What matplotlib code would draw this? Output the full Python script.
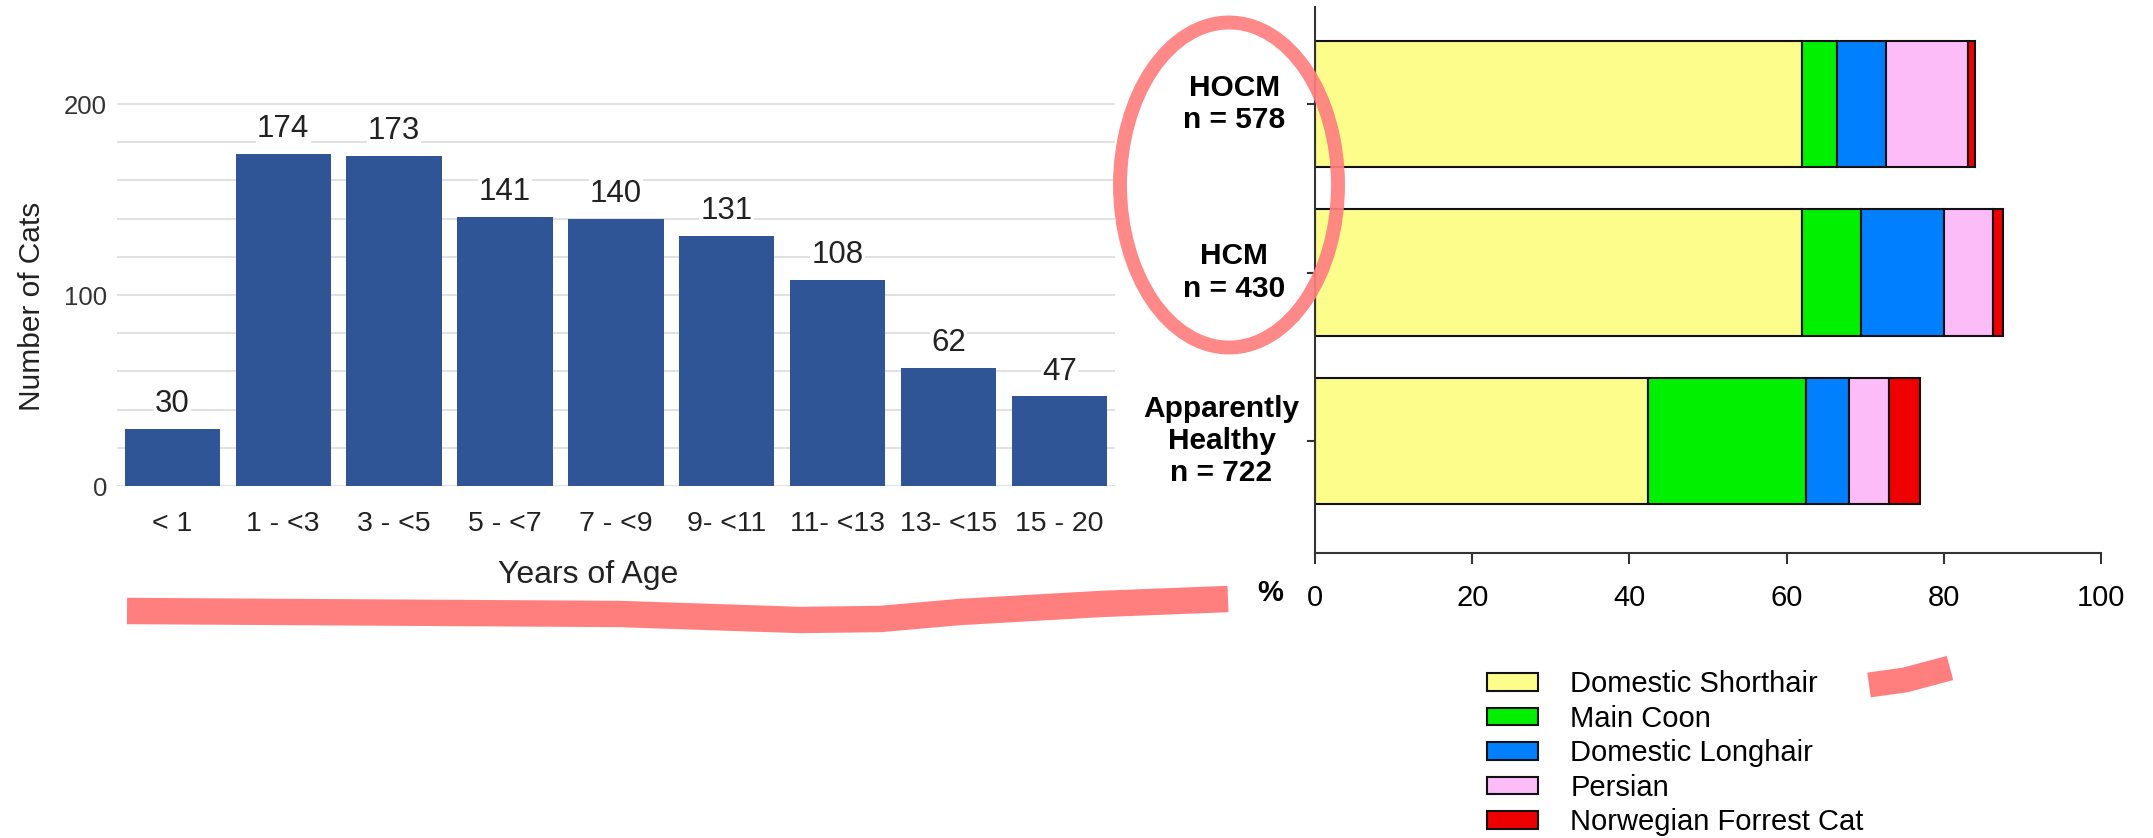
import numpy as np
import matplotlib.pyplot as plt
from matplotlib.patches import Ellipse
from matplotlib.lines import Line2D
import matplotlib.transforms as mtransforms

plt.rcParams['font.family'] = ['Liberation Sans', 'DejaVu Sans']

# age distribution of the cats
age_groups = ["< 1", "1 - <3", "3 - <5", "5 - <7", "7 - <9", "9- <11", "11- <13", "13- <15", "15 - 20"]
cat_counts = [30, 174, 173, 141, 140, 131, 108, 62, 47]

# breed share (%) per group, bottom row first
groups = ["Apparently\nHealthy\nn = 722", "HCM\nn = 430", "HOCM\nn = 578"]
breeds = ["Domestic Shorthair", "Main Coon", "Domestic Longhair", "Persian", "Norwegian Forrest Cat"]
dsh_pct = [42.3, 61.9, 61.9]
mc_pct = [20.2, 7.5, 4.5]
dlh_pct = [5.4, 10.6, 6.2]
persian_pct = [5.1, 6.3, 10.5]
nfc_pct = [4.0, 1.2, 0.9]
breed_colors = ["#fdfd8c", "#00f000", "#0080ff", "#fcbcf8", "#ee0000"]

W, H = 2153, 838
fig = plt.figure(figsize=(W / 100, H / 100), dpi=100)

# --- left: number of cats per age group ---
ax1 = fig.add_axes([0.0543, 0.42, 0.4635, 0.4672])
x = np.arange(len(age_groups))
bars = ax1.bar(x, cat_counts, width=0.86, color="#2f5597", zorder=2)
ax1.bar_label(bars, padding=7, fontsize=22.5, color="#222222",
              bbox=dict(facecolor="white", edgecolor="none", pad=1))
ax1.set_xlim(-0.5, 8.5)
ax1.set_ylim(0, 205)
ax1.set_yticks([0, 100, 200])
ax1.set_yticks(np.arange(0, 201, 20), minor=True)
ax1.grid(axis="y", which="both", color="#dedede", lw=1.3, zorder=0)
ax1.set_axisbelow(True)
for s in ax1.spines.values():
    s.set_visible(False)
ax1.set_xticks(x)
ax1.set_xticklabels(age_groups, fontsize=20.5, color="#222222")
ax1.tick_params(axis="x", length=0, pad=18)
ax1.tick_params(axis="y", which="both", length=0, pad=7, labelsize=18.5, labelcolor="#333333")
ax1.set_ylabel("Number of Cats", fontsize=21.5, color="#222222")
ax1.yaxis.set_label_coords(-0.071, 0.46)
ax1.set_xlabel("Years of Age", fontsize=23, color="#222222")
ax1.xaxis.set_label_coords(0.472, -0.19)

# --- right: breed mix, stacked horizontal bars ---
ax2 = fig.add_axes([0.6108, 0.340, 0.3651, 0.6516])
y = np.arange(len(groups))
left = np.zeros(len(groups))
handles = []
for pct, col in zip([dsh_pct, mc_pct, dlh_pct, persian_pct, nfc_pct], breed_colors):
    h = ax2.barh(y, pct, left=left, height=0.75, color=col, edgecolor="#111111", lw=1.5)
    handles.append(h)
    left += np.array(pct)
ax2.set_xlim(0, 100)
ax2.set_ylim(-0.665, 2.576)
ax2.spines["top"].set_visible(False)
ax2.spines["right"].set_visible(False)
for s in ("left", "bottom"):
    ax2.spines[s].set_color("#333333")
    ax2.spines[s].set_linewidth(1.5)
ax2.set_xticks(np.arange(0, 101, 20))
ax2.tick_params(axis="x", length=8, width=1.5, pad=14, labelsize=21, color="#333333")
ax2.set_yticks(y)
ax2.set_yticklabels([])
ax2.tick_params(axis="y", length=6, width=1.5, color="#333333")

# group names sit left of the axis, centred under each other
label_x = [-0.119, -0.103, -0.103]
trans = mtransforms.blended_transform_factory(ax2.transAxes, ax2.transData)
for yi, g, lx in zip(y, groups, label_x):
    ax2.text(lx, yi, g, transform=trans, ha="center", va="center", fontsize=21.5,
             fontweight="bold", linespacing=1.2)
ax2.text(-0.057, -0.073, "%", transform=ax2.transAxes, ha="center", va="center",
         fontsize=21, fontweight="bold")

fig.legend(handles, breeds, loc="upper left", bbox_to_anchor=(0.6907, 0.200),
           frameon=False, fontsize=21, handlelength=1.75,
           handleheight=0.55, handletextpad=1.1, labelspacing=0.22,
           borderpad=0, borderaxespad=0)

# --- pink marker strokes on top ---
pink = "#ff7f7f"
fig.add_artist(Ellipse((1229 / W, 1 - 185 / H), 218 / W, 325 / H, transform=fig.transFigure,
                       fill=False, edgecolor=pink, lw=10, alpha=0.92, zorder=10))
ux = [127, 620, 800, 880, 960, 1100, 1228]
uy = [611, 614, 620, 619, 612, 604, 599]
fig.add_artist(Line2D([v / W for v in ux], [1 - v / H for v in uy], transform=fig.transFigure,
                      color=pink, lw=19, solid_capstyle="butt", zorder=10))
sx = [1869, 1905, 1950]
sy = [685, 680, 668]
fig.add_artist(Line2D([v / W for v in sx], [1 - v / H for v in sy], transform=fig.transFigure,
                      color=pink, lw=18, solid_capstyle="butt", zorder=10))

fig.savefig("out.png", dpi=100)
